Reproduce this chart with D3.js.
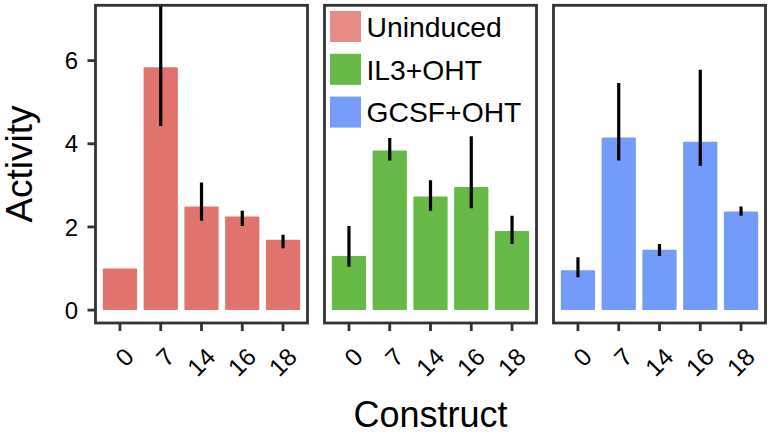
<!DOCTYPE html>
<html>
<head>
<meta charset="utf-8">
<script src="https://cdn.jsdelivr.net/npm/d3@7"></script>
<style>
  html, body { margin: 0; padding: 0; background: #fff; }
  svg { display: block; }
  text { font-family: "Liberation Sans", Arial, Helvetica, sans-serif; }
</style>
</head>
<body>
<svg id="chart" width="771" height="435"></svg>
<script>
// ---- data ----
const constructs = ["0", "7", "14", "16", "18"];
const groups = ["Uninduced", "IL3+OHT", "GCSF+OHT"];
const uninducedMean  = [1.00, 5.84, 2.49, 2.25, 1.69];
const uninducedLower = [null, 4.43, 2.15, 2.02, 1.49];
const uninducedUpper = [null, 7.60, 3.07, 2.39, 1.81];
const il3Mean  = [1.30, 3.84, 2.73, 2.96, 1.90];
const il3Lower = [1.04, 3.60, 2.39, 2.45, 1.59];
const il3Upper = [2.02, 4.14, 3.12, 4.18, 2.27];
const gcsfMean  = [0.96, 4.15, 1.45, 4.05, 2.37];
const gcsfLower = [0.79, 3.60, 1.30, 3.47, 2.27];
const gcsfUpper = [1.27, 5.46, 1.59, 5.78, 2.49];
const yTicks = [0, 2, 4, 6];
const barColors = ["#E0736B", "#66B947", "#739BF9"];
const keyColors = ["#E58C86", "#66B947", "#779CF9"];

const panels = [
  {mean: uninducedMean, lower: uninducedLower, upper: uninducedUpper},
  {mean: il3Mean, lower: il3Lower, upper: il3Upper},
  {mean: gcsfMean, lower: gcsfLower, upper: gcsfUpper}
];

// ---- layout ----
const svg = d3.select("#chart");
const panelX = [95.5, 324.5, 553.5];
const panelW = 212;
const panelTop = 5.3, panelBottom = 323;
const y = d3.scaleLinear().domain([-0.31, 7.33]).range([panelBottom, panelTop]);
const x = d3.scalePoint().domain(constructs).range([0, panelW]).padding(0.6);
const barW = x.step() * 0.84;
const frame = "#333333";

panels.forEach((p, i) => {
  const g = svg.append("g").attr("transform", `translate(${panelX[i]},0)`);
  const clipId = "clip" + i;
  g.append("clipPath").attr("id", clipId)
    .append("rect").attr("x", 0).attr("y", panelTop).attr("width", panelW).attr("height", panelBottom - panelTop);
  const inner = g.append("g").attr("clip-path", `url(#${clipId})`);
  inner.selectAll("rect.bar").data(constructs).enter().append("rect")
    .attr("class", "bar")
    .attr("x", d => x(d) - barW / 2)
    .attr("width", barW)
    .attr("y", (d, j) => y(p.mean[j]))
    .attr("height", (d, j) => y(0) - y(p.mean[j]))
    .attr("rx", 1)
    .attr("fill", barColors[i]);
  inner.selectAll("line.err").data(constructs.filter((d, j) => p.lower[j] != null)).enter().append("line")
    .attr("class", "err")
    .attr("x1", d => x(d)).attr("x2", d => x(d))
    .attr("y1", d => y(p.lower[constructs.indexOf(d)]))
    .attr("y2", d => y(p.upper[constructs.indexOf(d)]))
    .attr("stroke", "#000").attr("stroke-width", 3.2);

  // legend in panel 2
  if (i === 1) {
    const lg = g.append("g").attr("transform", "translate(5.5,0)");
    groups.forEach((name, k) => {
      const cy = 26.5 + k * 42.8;
      lg.append("rect").attr("x", 0).attr("y", cy - 15.5).attr("width", 31).attr("height", 31)
        .attr("fill", keyColors[k]);
      lg.append("text").attr("x", 36.5).attr("y", cy + 10.3)
        .attr("font-size", 28.3).attr("fill", "#000").text(name);
    });
  }

  // frame
  g.append("rect").attr("x", 0).attr("y", panelTop).attr("width", panelW).attr("height", panelBottom - panelTop)
    .attr("fill", "none").attr("stroke", frame).attr("stroke-width", 2.8);

  // x ticks
  const xt = g.selectAll("g.xt").data(constructs).enter().append("g").attr("class", "xt");
  xt.append("line").attr("x1", d => x(d)).attr("x2", d => x(d))
    .attr("y1", panelBottom).attr("y2", panelBottom + 8)
    .attr("stroke", frame).attr("stroke-width", 2.8);
  xt.append("text")
    .attr("transform", d => `translate(${x(d) + 3},346) rotate(-45)`)
    .attr("text-anchor", "end").attr("y", 17.5)
    .attr("font-size", 24.5).attr("fill", "#000")
    .text(d => d);
});

// y axis (first panel only)
const ya = svg.append("g");
yTicks.forEach(t => {
  ya.append("line").attr("x1", panelX[0] - 8).attr("x2", panelX[0])
    .attr("y1", y(t)).attr("y2", y(t)).attr("stroke", frame).attr("stroke-width", 2.8);
  ya.append("text").attr("x", 78).attr("y", y(t) + 8.6)
    .attr("text-anchor", "end").attr("font-size", 24).attr("fill", "#000").text(t);
});

// axis titles
svg.append("text").attr("transform", "translate(31.5,164) rotate(-90)")
  .attr("text-anchor", "middle").attr("font-size", 37).attr("fill", "#000").text("Activity");
svg.append("text").attr("x", 430.5).attr("y", 427)
  .attr("text-anchor", "middle").attr("font-size", 36).attr("fill", "#000").text("Construct");
</script>
</body>
</html>
